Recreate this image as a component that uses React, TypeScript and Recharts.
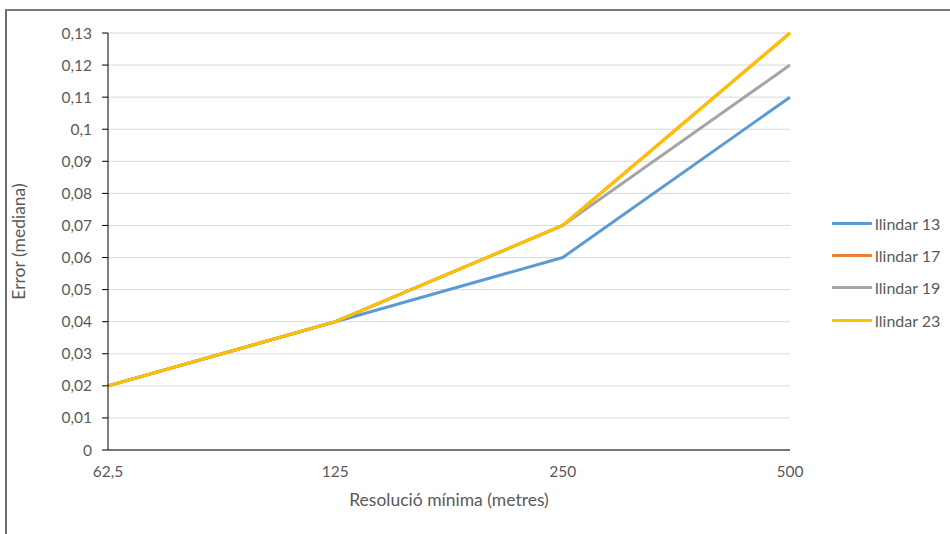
import React from 'react';
import { LineChart, Line, XAxis, YAxis, CartesianGrid, Legend } from 'recharts';

const resolutions = ['62,5', '125', '250', '500'];
const llindar13 = [0.02, 0.04, 0.06, 0.11];
const llindar17 = [0.02, 0.04, 0.07, 0.13];
const llindar19 = [0.02, 0.04, 0.07, 0.12];
const llindar23 = [0.02, 0.04, 0.07, 0.13];
const yTicks = [0, 0.01, 0.02, 0.03, 0.04, 0.05, 0.06, 0.07, 0.08, 0.09, 0.1, 0.11, 0.12, 0.13];

const series = [
  { key: 'l13', name: 'llindar 13', color: '#5B9BD5' },
  { key: 'l17', name: 'llindar 17', color: '#ED7D31' },
  { key: 'l19', name: 'llindar 19', color: '#A5A5A5' },
  { key: 'l23', name: 'llindar 23', color: '#FFC000' },
];

const data = resolutions.map((res, i) => ({
  res,
  l13: llindar13[i],
  l17: llindar17[i],
  l19: llindar19[i],
  l23: llindar23[i],
}));

const FONT = 'Lato, "Open Sans", sans-serif';
const TEXT = '#595959';

const fmt = (v: number) => String(v).replace('.', ',');

function LegendBox({ payload }: any) {
  return (
    <div style={{ fontFamily: FONT, fontSize: 16, color: TEXT }}>
      {(payload || []).map((p: any) => (
        <div key={p.value} style={{ display: 'flex', alignItems: 'center', height: 32.3 }}>
          <span style={{ width: 40, height: 3, background: p.color, marginRight: 3, borderRadius: 1 }} />
          <span>{p.value}</span>
        </div>
      ))}
    </div>
  );
}

export default function App() {
  return (
    <div style={{ position: 'absolute', left: 0, top: 0, width: 950, height: 534, background: '#fff', overflow: 'hidden' }}>
      <div
        style={{
          position: 'absolute',
          left: 5,
          top: 9,
          width: 1000,
          height: 600,
          borderTop: '2px solid #7a7a7a',
          borderLeft: '2px solid #6e6e6e',
        }}
      />
      <LineChart width={950} height={534} data={data} margin={{ top: 33, right: 160, bottom: 24, left: 0 }}>
        <CartesianGrid vertical={false} stroke="#d9d9d9" />
        <XAxis
          dataKey="res"
          scale="point"
          axisLine={{ stroke: '#000' }}
          tickLine={false}
          tickSize={0}
          tickMargin={16}
          height={60}
          tick={{ fill: TEXT, fontSize: 15.5, fontFamily: FONT }}
          label={{
            content: ({ viewBox }: any) => (
              <text
                x={viewBox.x + viewBox.width / 2}
                y={499}
                textAnchor="middle"
                dominantBaseline="central"
                fill={TEXT}
                fontSize={17.5}
                fontFamily={FONT}
              >
                Resolució mínima (metres)
              </text>
            ),
          }}
        />
        <YAxis
          width={108}
          domain={[0, 0.13]}
          ticks={yTicks}
          interval={0}
          tickFormatter={fmt}
          axisLine={{ stroke: '#000' }}
          tickLine={{ stroke: '#000' }}
          tickSize={6}
          tickMargin={10}
          tick={{ fill: TEXT, fontSize: 15.5, fontFamily: FONT }}
          label={{
            content: ({ viewBox }: any) => {
              const cy = viewBox.y + viewBox.height / 2;
              return (
                <text
                  x={18}
                  y={cy}
                  transform={`rotate(-90, 18, ${cy})`}
                  textAnchor="middle"
                  dominantBaseline="central"
                  fill={TEXT}
                  fontSize={17.5}
                  fontFamily={FONT}
                >
                  Error (mediana)
                </text>
              );
            },
          }}
        />
        <Legend
          layout="vertical"
          align="center"
          verticalAlign="middle"
          wrapperStyle={{ left: 832, top: 207, width: 118 }}
          content={<LegendBox />}
        />
        {series.map((s) => (
          <Line
            key={s.key}
            type="linear"
            dataKey={s.key}
            name={s.name}
            stroke={s.color}
            strokeWidth={3}
            dot={false}
            activeDot={false}
            isAnimationActive={false}
          />
        ))}
      </LineChart>
    </div>
  );
}
